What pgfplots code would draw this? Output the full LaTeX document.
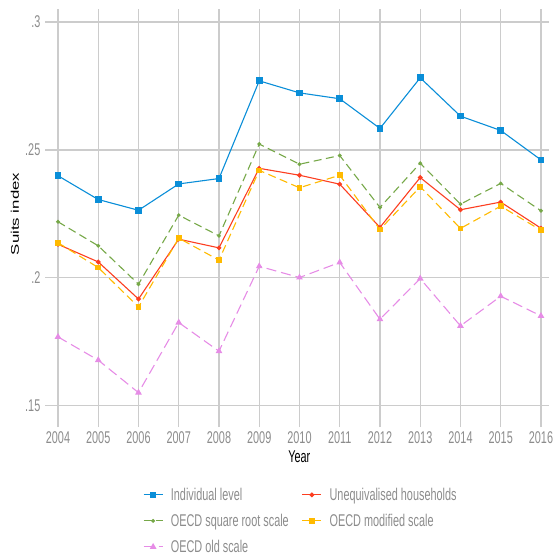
\documentclass[border=0pt]{standalone}
\usepackage{pgfplots}
\pgfplotsset{compat=1.18}
\usepackage{fontspec}
\setmainfont{Liberation Sans}
\newfontfamily\narrow[FakeStretch=0.64]{Liberation Sans}
\definecolor{cblue}{RGB}{10,142,216}
\definecolor{cred}{RGB}{252,62,32}
\definecolor{cgreen}{RGB}{118,168,72}
\definecolor{cyellow}{RGB}{255,186,0}
\definecolor{cpink}{RGB}{230,140,230}
\definecolor{gridgray}{RGB}{204,204,204}
\definecolor{labgray}{RGB}{140,140,140}
\begin{document}
\begin{tikzpicture}
\useasboundingbox (0,0) rectangle (555bp,556bp);
\begin{axis}[
  at={(58bp,142bp)}, anchor=south west,
  scale only axis, width=491bp, height=405bp,
  xmin=2004, xmax=2016.2, ymin=0.14675, ymax=0.30509,
  xtick={2004,2005,2006,2007,2008,2009,2010,2011,2012,2013,2014,2015,2016},
  xticklabels={2004,2005,2006,2007,2008,2009,2010,2011,2012,2013,2014,2015,2016},
  ytick={0.15,0.2,0.25,0.3}, yticklabels={.15,.2,.25,.3},
  grid=major, major grid style={draw=gridgray, line width=1.2bp},
  axis line style={draw=none},
  tick align=outside, major tick length=13bp,
  tick style={draw=gridgray, line width=1.2bp},
  xtick pos=left, ytick pos=left,
  ticklabel style={font=\narrow\fontsize{17bp}{20bp}\selectfont, text=labgray},
  xticklabel style={anchor=north, inner sep=0pt, yshift=-4bp},
  yticklabel style={anchor=east, inner sep=0pt, xshift=-4.5bp},
  xlabel={Year},
  xlabel style={font=\narrow\fontsize{17bp}{20bp}\selectfont, at={(axis description cs:0.4914,0)}, anchor=center, yshift=-42.5bp},
  ylabel={\scalebox{1}[0.66]{Suits index}},
  ylabel style={font=\fontsize{16.8bp}{20bp}\selectfont, at={(axis description cs:-0.0876,0.494)}, anchor=center, rotate=0},
  legend columns=2,
  legend style={draw=none, fill=none, at={(axis description cs:0.1668,-0.1795)}, anchor=north west,
    font=\narrow\fontsize{17bp}{20bp}\selectfont, text=labgray,
    nodes={inner sep=0pt, text height=12bp, text depth=0bp},
    row sep=14bp,
    /tikz/every odd column/.append style={column sep=7.7bp},
    /tikz/every even column/.append style={column sep=13bp}},
  legend cell align=left,
  legend image code/.code={\draw[mark repeat=2,mark phase=2] plot coordinates {(0bp,0bp) (9.5bp,0bp) (19bp,0bp)};},
]
\addplot[color=cblue, line width=1.1bp, mark=square*, mark size=2.8bp, mark options={solid}] coordinates {
(2004,0.2399) (2005,0.2306) (2006,0.2264) (2007,0.2367) (2008,0.2388) (2009,0.2770) (2010,0.2723) (2011,0.2700) (2012,0.2584) (2013,0.2782) (2014,0.2632) (2015,0.2576) (2016,0.2461)};
\addlegendentry{Individual level}
\addplot[color=cred, line width=1.1bp, mark=*, mark size=1.8bp, mark options={solid}] coordinates {
(2004,0.2131) (2005,0.2062) (2006,0.1917) (2007,0.2151) (2008,0.2117) (2009,0.2428) (2010,0.2401) (2011,0.2366) (2012,0.2197) (2013,0.2392) (2014,0.2266) (2015,0.2296) (2016,0.2194)};
\addlegendentry{Unequivalised households}
\addplot[color=cgreen, line width=1.1bp, dash pattern=on 8bp off 4.5bp, mark=*, mark size=1.3bp, mark options={solid}] coordinates {
(2004,0.2219) (2005,0.2125) (2006,0.1975) (2007,0.2245) (2008,0.2164) (2009,0.2523) (2010,0.2444) (2011,0.2478) (2012,0.2275) (2013,0.2448) (2014,0.2288) (2015,0.2369) (2016,0.2262)};
\addlegendentry{OECD square root scale}
\addplot[color=cyellow, line width=1.1bp, dash pattern=on 8bp off 4.5bp, mark=square*, mark size=2.3bp, mark options={solid}] coordinates {
(2004,0.2137) (2005,0.2040) (2006,0.1886) (2007,0.2155) (2008,0.2069) (2009,0.2420) (2010,0.2352) (2011,0.2401) (2012,0.2189) (2013,0.2356) (2014,0.2193) (2015,0.2280) (2016,0.2186)};
\addlegendentry{OECD modified scale}
\addplot[color=cpink, line width=1.1bp, dash pattern=on 10bp off 5bp, mark=triangle*, mark size=2.8bp, mark options={solid}] coordinates {
(2004,0.1769) (2005,0.1678) (2006,0.1551) (2007,0.1825) (2008,0.1713) (2009,0.2045) (2010,0.2001) (2011,0.2060) (2012,0.1838) (2013,0.1997) (2014,0.1812) (2015,0.1928) (2016,0.1851)};
\addlegendentry{OECD old scale}
\end{axis}
\end{tikzpicture}
\end{document}
